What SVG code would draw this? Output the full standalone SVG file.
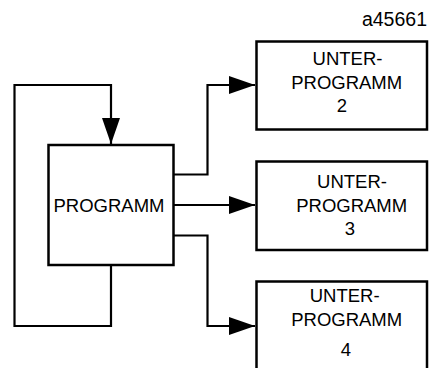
<svg xmlns="http://www.w3.org/2000/svg" width="430" height="368" viewBox="0 0 430 368">
  <style>
    .box { fill: #ffffff; stroke: #000000; stroke-width: 2.5; }
    .wire { fill: none; stroke: #000000; stroke-width: 2.2; }
    .label { font-family: "Liberation Sans", Arial, sans-serif; font-size: 18.5px; fill: #000000; text-anchor: middle; }
  </style>
  <defs>
    <marker id="arrow" viewBox="0 0 26 18" markerWidth="26" markerHeight="18" refX="26" refY="9" markerUnits="userSpaceOnUse" orient="auto">
      <path d="M0,0 L26,9 L0,18 Z" fill="#000000"/>
    </marker>
  </defs>

  <text x="427" y="25.5" font-family="Liberation Sans, Arial, sans-serif" font-size="19.5" text-anchor="end">a45661</text>

  <g id="connectors">
    <!-- feedback loop back into the main program -->
    <path class="wire" d="M111,265 V326 H14.5 V85 H111 V144" marker-end="url(#arrow)"/>
    <!-- calls to the subprograms -->
    <path class="wire" d="M174,174.5 H207.5 V85 H255" marker-end="url(#arrow)"/>
    <path class="wire" d="M174,205 H255" stroke-width="3" marker-end="url(#arrow)"/>
    <path class="wire" d="M174,235.5 H207.5 V326 H255" marker-end="url(#arrow)"/>
  </g>

  <g id="programm">
    <rect class="box" x="48.5" y="145" width="125" height="120"/>
    <text class="label" x="109" y="211.5">PROGRAMM</text>
  </g>

  <g id="unterprogramm2">
    <rect class="box" x="256.5" y="41.5" width="170.5" height="88"/>
    <text class="label" x="347.5" y="65">UNTER-</text>
    <text class="label" x="346.7" y="89.3">PROGRAMM</text>
    <text class="label" x="342" y="111.7">2</text>
  </g>

  <g id="unterprogramm3">
    <rect class="box" x="256.5" y="161.5" width="170.5" height="88.5"/>
    <text class="label" x="352" y="187.7">UNTER-</text>
    <text class="label" x="351.7" y="211.7">PROGRAMM</text>
    <text class="label" x="350" y="235">3</text>
  </g>

  <g id="unterprogramm4">
    <rect class="box" x="256.5" y="281.5" width="170.5" height="100"/>
    <text class="label" x="344.7" y="301.7">UNTER-</text>
    <text class="label" x="346.7" y="326">PROGRAMM</text>
    <text class="label" x="345.8" y="355.7">4</text>
  </g>
</svg>
